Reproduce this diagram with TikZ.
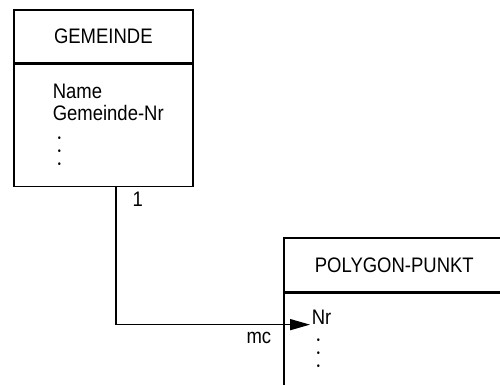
\documentclass[tikz,border=0pt]{standalone}
\usepackage{fontspec}
\setmainfont{Liberation Sans}[FakeStretch=0.88]
\usetikzlibrary{arrows.meta,positioning}
\newcommand{\dreipunkte}{\vbox{\fontsize{10}{13}\selectfont\lineskiplimit-20pt\hbox{•}\hbox{•}\hbox{•}}}

\begin{document}
\begin{tikzpicture}[x=1pt,y=1pt,line width=1.6pt,
  kopf/.style={draw, inner sep=0pt, font=\fontsize{21}{22}\selectfont},
  rumpf/.style={draw, inner sep=0pt},
  attr/.style={align=left, inner sep=0pt, font=\fontsize{21}{22}\selectfont},
  kard/.style={inner sep=0pt, font=\fontsize{21}{22}\selectfont}]
\useasboundingbox (0,0) rectangle (500,385);
\clip (0,0) rectangle (500,385);
% Entitaet GEMEINDE
\node[kopf, minimum width=179pt, minimum height=53pt, anchor=north west] (gemkopf) at (13,376) {GEMEINDE};
\node[rumpf, minimum width=179pt, minimum height=122pt, anchor=north] (gemattr) at (gemkopf.south) {};
\node[attr, anchor=north west] (gemtext) at ([xshift=39pt,yshift=-20pt]gemattr.north west) {Name\\Gemeinde-Nr};
\node[attr, anchor=base west] (gempunkte) at ([xshift=5pt,yshift=-46pt]gemtext.south west) {\dreipunkte};
% Entitaet POLYGON-PUNKT (rechts angeschnitten)
\node[kopf, minimum width=221pt, minimum height=54pt, anchor=north west] (polykopf) at (283,148) {POLYGON-PUNKT};
\node[rumpf, minimum width=221pt, minimum height=93pt, anchor=north] (polyattr) at (polykopf.south) {};
\node[attr, anchor=north west] (nr) at ([xshift=28pt,yshift=-17pt]polyattr.north west) {Nr};
\node[attr, anchor=base west] (nrpunkte) at ([xshift=5pt,yshift=-44pt]nr.south west) {\dreipunkte};
% Beziehung 1:mc
\draw[-{Stealth[length=20pt,width=11pt,inset=0pt]}] ([xshift=12.5pt]gemattr.south) |- ([xshift=-1pt,yshift=1pt]nr.south west)
  node[kard, pos=0, anchor=north west, xshift=16pt, yshift=-4pt] {1}
  node[kard, pos=1, anchor=north east, xshift=-38pt, yshift=-7pt] {mc};
\end{tikzpicture}
\end{document}
